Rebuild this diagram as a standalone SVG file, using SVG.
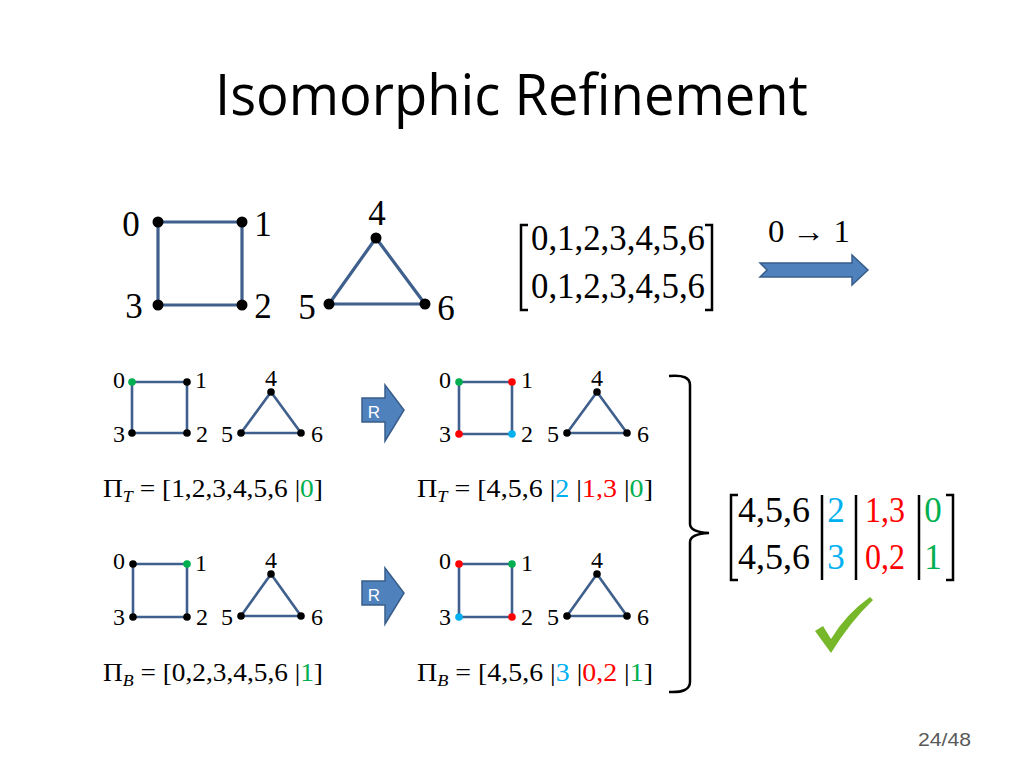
<svg xmlns="http://www.w3.org/2000/svg" width="1024" height="768" viewBox="0 0 1024 768">
<style>
.t{font-family:"Liberation Serif","DejaVu Serif",serif;fill:#000}
.big{font-size:35px}
.sm{font-size:24px}
.eq{font-size:26px}
.e{stroke:#3f5f8c;fill:none}
.e1{stroke-width:3.2}
.e2{stroke-width:2.6}
.g{fill:#00b050}.r{fill:#ff0000}.b{fill:#00b0f0}.k{fill:#000}
.br{stroke:#000;fill:none;stroke-width:2.5}
.arr{fill:#4f81bd;stroke:#385d8a;stroke-width:1.5}
</style>
<defs>
<g id="rarrow">
<path class="arr" d="M362,398 H385 V385 L404,410 L385,441 V422 H362 Z"/>
<text x="374" y="418" font-family="Liberation Sans,Arial,sans-serif" font-size="17" fill="#fff" text-anchor="middle">R</text>
</g>
</defs>
<rect width="1024" height="768" fill="#fff"/>
<text id="title" x="215" y="115" font-family="Open Sans,Liberation Sans,Arial,sans-serif" font-size="56" textLength="593" lengthAdjust="spacingAndGlyphs">Isomorphic Refinement</text>

<!-- top big graph -->
<g id="graph-main">
<g id="edges-main">
<path class="e e1" d="M158,222 H242 V305 H158 Z"/>
<path class="e e1" d="M376,238 L329,304 H425 Z"/>
</g>
<g id="n0"><circle cx="158" cy="222" r="5.5"/><text class="t big" x="131" y="236" text-anchor="middle">0</text></g>
<g id="n1"><circle cx="242" cy="222" r="5.5"/><text class="t big" x="263" y="236" text-anchor="middle">1</text></g>
<g id="n2"><circle cx="242" cy="305" r="5.5"/><text class="t big" x="263" y="318" text-anchor="middle">2</text></g>
<g id="n3"><circle cx="158" cy="305" r="5.5"/><text class="t big" x="134" y="318" text-anchor="middle">3</text></g>
<g id="n4"><circle cx="376" cy="238" r="5.5"/><text class="t big" x="377" y="225" text-anchor="middle">4</text></g>
<g id="n5"><circle cx="329" cy="304" r="5.5"/><text class="t big" x="307" y="319" text-anchor="middle">5</text></g>
<g id="n6"><circle cx="425" cy="304" r="5.5"/><text class="t big" x="446" y="320" text-anchor="middle">6</text></g>
</g>

<g id="matrix-top">
<path class="br" d="M528,225 H521 V310 H528"/>
<path class="br" d="M705,225 H712 V310 H705"/>
<text class="t big" x="531" y="250" textLength="174" lengthAdjust="spacingAndGlyphs">0,1,2,3,4,5,6</text>
<text class="t big" x="531" y="298" textLength="174" lengthAdjust="spacingAndGlyphs">0,1,2,3,4,5,6</text>
</g>

<g id="map-arrow">
<text class="t" x="768" y="242" font-size="31" textLength="82" lengthAdjust="spacingAndGlyphs">0 → 1</text>
<path class="arr" d="M760,263 H852 V255 L868,270 L852,285 V277 H760 L767,270 Z"/>
</g>

<!-- top-left small graph -->
<g id="graph-TL">
<g class="edges"><path class="e e2" d="M132,382 H187 V433 H132 Z"/><path class="e e2" d="M271,392 L241,433 H301 Z"/></g>
<g id="tl0"><circle class="g" cx="132" cy="382" r="3.8"/><text class="t sm" x="119" y="388" text-anchor="middle">0</text></g>
<g id="tl1"><circle class="k" cx="187" cy="382" r="3.8"/><text class="t sm" x="201" y="388" text-anchor="middle">1</text></g>
<g id="tl2"><circle class="k" cx="187" cy="433" r="3.8"/><text class="t sm" x="202" y="442" text-anchor="middle">2</text></g>
<g id="tl3"><circle class="k" cx="132" cy="433" r="3.8"/><text class="t sm" x="119" y="442" text-anchor="middle">3</text></g>
<g id="tl4"><circle class="k" cx="271" cy="392" r="3.8"/><text class="t sm" x="271" y="386" text-anchor="middle">4</text></g>
<g id="tl5"><circle class="k" cx="241" cy="433" r="3.8"/><text class="t sm" x="227" y="442" text-anchor="middle">5</text></g>
<g id="tl6"><circle class="k" cx="301" cy="433" r="3.8"/><text class="t sm" x="317" y="442" text-anchor="middle">6</text></g>
</g>
<text id="pi-tl" class="t eq" x="103" y="497" textLength="220" lengthAdjust="spacingAndGlyphs">Π<tspan font-style="italic" font-size="17" dy="5">T</tspan><tspan dy="-5"> = [1,2,3,4,5,6 |</tspan><tspan class="g">0</tspan>]</text>

<g id="r-top"><use href="#rarrow"/></g>

<!-- top-right small graph -->
<g id="graph-TR">
<g class="edges"><path class="e e2" d="M459,382 H512 V434 H459 Z"/><path class="e e2" d="M597,392 L567,433 H627 Z"/></g>
<g id="tr0"><circle class="g" cx="459" cy="382" r="3.8"/><text class="t sm" x="445" y="388" text-anchor="middle">0</text></g>
<g id="tr1"><circle class="r" cx="512" cy="382" r="3.8"/><text class="t sm" x="527" y="388" text-anchor="middle">1</text></g>
<g id="tr2"><circle class="b" cx="512" cy="434" r="3.8"/><text class="t sm" x="527" y="442" text-anchor="middle">2</text></g>
<g id="tr3"><circle class="r" cx="459" cy="434" r="3.8"/><text class="t sm" x="445" y="442" text-anchor="middle">3</text></g>
<g id="tr4"><circle class="k" cx="597" cy="392" r="3.8"/><text class="t sm" x="597" y="386" text-anchor="middle">4</text></g>
<g id="tr5"><circle class="k" cx="567" cy="433" r="3.8"/><text class="t sm" x="553" y="442" text-anchor="middle">5</text></g>
<g id="tr6"><circle class="k" cx="627" cy="433" r="3.8"/><text class="t sm" x="643" y="442" text-anchor="middle">6</text></g>
</g>
<text id="pi-tr" class="t eq" x="417" y="497" textLength="236" lengthAdjust="spacingAndGlyphs">Π<tspan font-style="italic" font-size="17" dy="5">T</tspan><tspan dy="-5"> = [4,5,6 |</tspan><tspan class="b">2</tspan> |<tspan class="r">1,3</tspan> |<tspan class="g">0</tspan>]</text>

<!-- bottom-left small graph -->
<g id="graph-BL">
<g class="edges"><path class="e e2" d="M133,564 H187 V617 H133 Z"/><path class="e e2" d="M271,574 L241,616 H301 Z"/></g>
<g id="bl0"><circle class="k" cx="133" cy="564" r="3.8"/><text class="t sm" x="119" y="569" text-anchor="middle">0</text></g>
<g id="bl1"><circle class="g" cx="187" cy="564" r="3.8"/><text class="t sm" x="201" y="571" text-anchor="middle">1</text></g>
<g id="bl2"><circle class="k" cx="187" cy="617" r="3.8"/><text class="t sm" x="202" y="625" text-anchor="middle">2</text></g>
<g id="bl3"><circle class="k" cx="133" cy="617" r="3.8"/><text class="t sm" x="119" y="625" text-anchor="middle">3</text></g>
<g id="bl4"><circle class="k" cx="271" cy="574" r="3.8"/><text class="t sm" x="271" y="568" text-anchor="middle">4</text></g>
<g id="bl5"><circle class="k" cx="241" cy="616" r="3.8"/><text class="t sm" x="227" y="625" text-anchor="middle">5</text></g>
<g id="bl6"><circle class="k" cx="301" cy="616" r="3.8"/><text class="t sm" x="317" y="625" text-anchor="middle">6</text></g>
</g>
<text id="pi-bl" class="t eq" x="103" y="681" textLength="220" lengthAdjust="spacingAndGlyphs">Π<tspan font-style="italic" font-size="17" dy="5">B</tspan><tspan dy="-5"> = [0,2,3,4,5,6 |</tspan><tspan class="g">1</tspan>]</text>

<g id="r-bottom" transform="translate(0,183)"><use href="#rarrow"/></g>

<!-- bottom-right small graph -->
<g id="graph-BR">
<g class="edges"><path class="e e2" d="M459,564 H512 V617 H459 Z"/><path class="e e2" d="M597,574 L567,616 H627 Z"/></g>
<g id="br0"><circle class="r" cx="459" cy="564" r="3.8"/><text class="t sm" x="445" y="569" text-anchor="middle">0</text></g>
<g id="br1"><circle class="g" cx="512" cy="564" r="3.8"/><text class="t sm" x="527" y="571" text-anchor="middle">1</text></g>
<g id="br2"><circle class="r" cx="512" cy="617" r="3.8"/><text class="t sm" x="527" y="625" text-anchor="middle">2</text></g>
<g id="br3"><circle class="b" cx="459" cy="617" r="3.8"/><text class="t sm" x="445" y="625" text-anchor="middle">3</text></g>
<g id="br4"><circle class="k" cx="597" cy="574" r="3.8"/><text class="t sm" x="597" y="568" text-anchor="middle">4</text></g>
<g id="br5"><circle class="k" cx="567" cy="616" r="3.8"/><text class="t sm" x="553" y="625" text-anchor="middle">5</text></g>
<g id="br6"><circle class="k" cx="627" cy="616" r="3.8"/><text class="t sm" x="643" y="625" text-anchor="middle">6</text></g>
</g>
<text id="pi-br" class="t eq" x="417" y="681" textLength="236" lengthAdjust="spacingAndGlyphs">Π<tspan font-style="italic" font-size="17" dy="5">B</tspan><tspan dy="-5"> = [4,5,6 |</tspan><tspan class="b">3</tspan> |<tspan class="r">0,2</tspan> |<tspan class="g">1</tspan>]</text>

<!-- brace -->
<g id="brace">
<path class="br" d="M669,376 Q690,374 690,385 V524 Q690,532 709,533 Q690,534 690,542 V682 Q690,693 669,692"/>
</g>

<!-- result matrix -->
<g id="matrix-result">
<path class="br" d="M738,495 H731 V580 H738"/>
<path class="br" d="M946,495 H953 V580 H946"/>
<line class="br" x1="822" y1="495" x2="822" y2="580"/>
<line class="br" x1="856" y1="495" x2="856" y2="580"/>
<line class="br" x1="919" y1="495" x2="919" y2="580"/>
<text class="t big" x="738" y="522" textLength="72" lengthAdjust="spacingAndGlyphs">4,5,6</text>
<text class="t big" x="738" y="569" textLength="72" lengthAdjust="spacingAndGlyphs">4,5,6</text>
<text class="t big b" x="836" y="522" text-anchor="middle">2</text>
<text class="t big b" x="836" y="569" text-anchor="middle">3</text>
<text class="t big r" x="865" y="522" textLength="40" lengthAdjust="spacingAndGlyphs">1,3</text>
<text class="t big r" x="865" y="569" textLength="40" lengthAdjust="spacingAndGlyphs">0,2</text>
<text class="t big g" x="933" y="522" text-anchor="middle">0</text>
<text class="t big g" x="933" y="569" text-anchor="middle">1</text>
</g>

<g id="check">
<path d="M815,631 L823,626 L831,639 Q846,614 870,597 L873,600 Q850,622 831,653 Z" fill="#76b82a"/>
</g>

<text id="page" x="918" y="746" font-family="Liberation Sans,Arial,sans-serif" font-size="19" fill="#595959" textLength="53" lengthAdjust="spacingAndGlyphs">24/48</text>
</svg>
